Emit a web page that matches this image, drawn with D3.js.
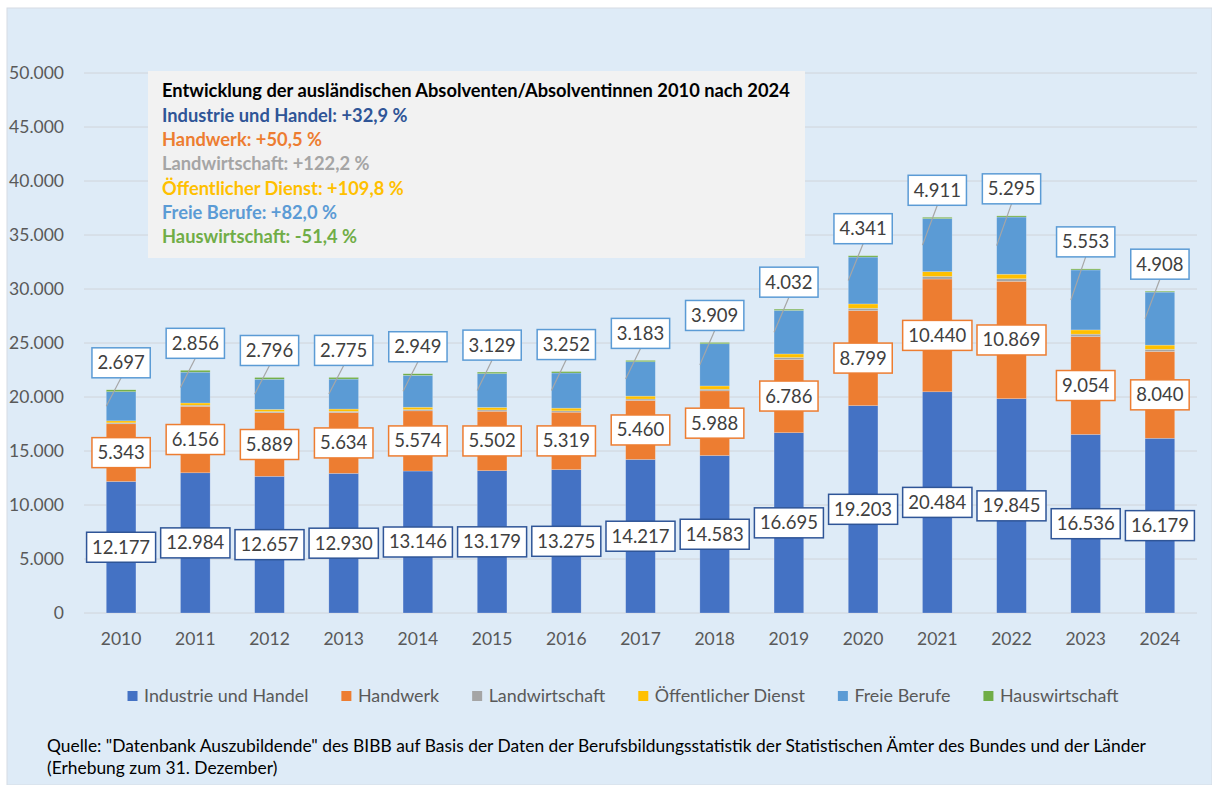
<!DOCTYPE html>
<html lang="de">
<head>
<meta charset="utf-8">
<script src="https://cdn.jsdelivr.net/npm/d3@7"></script>
<style>
  html, body { margin: 0; padding: 0; background: #fff; }
  svg { display: block; font-family: Lato, "Open Sans", "Noto Sans", sans-serif; }
</style>
</head>
<body>
<div id="chart"></div>
<script>
// ── Daten ─────────────────────────────────────────────
const years = ['2010', '2011', '2012', '2013', '2014', '2015', '2016', '2017',
               '2018', '2019', '2020', '2021', '2022', '2023', '2024'];

const industrie      = [12177, 12984, 12657, 12930, 13146, 13179, 13275, 14217, 14583, 16695, 19203, 20484, 19845, 16536, 16179];
const handwerk       = [5343, 6156, 5889, 5634, 5574, 5502, 5319, 5460, 5988, 6786, 8799, 10440, 10869, 9054, 8040];
const landwirtschaft = [90, 100, 105, 110, 115, 120, 125, 135, 150, 175, 215, 245, 235, 230, 200];
const oeffentlich    = [184, 205, 200, 210, 220, 235, 250, 270, 300, 330, 400, 440, 420, 390, 386];
const freieBerufe    = [2697, 2856, 2796, 2775, 2949, 3129, 3252, 3183, 3909, 4032, 4341, 4911, 5295, 5553, 4908];
const hauswirtschaft = [175, 170, 160, 155, 150, 140, 135, 125, 120, 115, 125, 120, 110, 100, 85];

const seriesNames = ['Industrie und Handel', 'Handwerk', 'Landwirtschaft',
                     'Öffentlicher Dienst', 'Freie Berufe', 'Hauswirtschaft'];
const seriesValues = [industrie, handwerk, landwirtschaft, oeffentlich, freieBerufe, hauswirtschaft];
const seriesColors = ['#4472C4', '#ED7D31', '#A5A5A5', '#FFC000', '#5B9BD5', '#70AD47'];

const yTicks = [0, 5000, 10000, 15000, 20000, 25000, 30000, 35000, 40000, 45000, 50000];

const boxTitle = 'Entwicklung der ausländischen Absolventen/Absolventinnen 2010 nach 2024';
const boxLines = ['Industrie und Handel: +32,9 %', 'Handwerk: +50,5 %', 'Landwirtschaft: +122,2 %',
                  'Öffentlicher Dienst: +109,8 %', 'Freie Berufe: +82,0 %', 'Hauswirtschaft: -51,4 %'];
const boxColors = ['#2F5597', '#ED7D31', '#A5A5A5', '#FFC000', '#5B9BD5', '#70AD47'];

const sourceLines = [
    'Quelle: "Datenbank Auszubildende" des BIBB auf Basis der Daten der Berufsbildungsstatistik der Statistischen Ämter des Bundes und der Länder',
    '(Erhebung zum 31. Dezember)'
];

// ── Aufbau ────────────────────────────────────────────
const W = 1212, H = 785;
const fmt = d3.formatLocale({ decimal: ',', thousands: '.', grouping: [3], currency: ['', '€'] }).format(',d');

const svg = d3.select('#chart').append('svg')
    .attr('width', W).attr('height', H);

svg.append('rect')
    .attr('x', 7).attr('y', 8).attr('width', W - 7).attr('height', H - 8)
    .attr('fill', '#DEEBF7')
    .attr('stroke', '#D6DCE4');

const x = d3.scaleBand().domain(years).range([84, 1197]).paddingInner(0.6).paddingOuter(0.3);
const y = d3.scaleLinear().domain([0, 50000]).range([613, 73]);

// Gitterlinien + Achsenbeschriftung
svg.append('g').selectAll('line')
    .data(yTicks)
    .join('line')
    .attr('x1', 84).attr('x2', 1197)
    .attr('y1', d => y(d)).attr('y2', d => y(d))
    .attr('stroke', '#D0D4DA').attr('stroke-width', 1);

svg.append('g').selectAll('text')
    .data(yTicks)
    .join('text')
    .attr('x', 64).attr('y', d => y(d))
    .attr('dy', '0.35em')
    .attr('text-anchor', 'end')
    .attr('fill', '#595959')
    .style('font-size', '17.5px')
    .text(d => fmt(d));

svg.append('g').selectAll('text')
    .data(years)
    .join('text')
    .attr('x', d => x(d) + x.bandwidth() / 2).attr('y', 639)
    .attr('dy', '0.35em')
    .attr('text-anchor', 'middle')
    .attr('fill', '#595959')
    .style('font-size', '17.5px')
    .text(d => d);

// ── Gestapelte Balken ────────────────────────────────
const rows = years.map((yr, i) => {
    const r = { year: yr };
    seriesNames.forEach((s, k) => { r[s] = seriesValues[k][i]; });
    return r;
});
const stacked = d3.stack().keys(seriesNames)(rows);

svg.append('g').selectAll('g')
    .data(stacked)
    .join('g')
    .attr('fill', (d, k) => seriesColors[k])
    .selectAll('rect')
    .data(d => d)
    .join('rect')
    .attr('x', d => x(d.data.year))
    .attr('width', x.bandwidth())
    .attr('y', d => y(d[1]))
    .attr('height', d => y(d[0]) - y(d[1]))
    .attr('stroke', 'rgba(255,255,255,0.35)')
    .attr('stroke-width', 0.6);

// ── Datenbeschriftungen ──────────────────────────────
function labelBox(g, cx, cy, text, border) {
    const t = g.append('text')
        .attr('x', cx).attr('y', cy)
        .attr('dy', '0.35em')
        .attr('text-anchor', 'middle')
        .attr('fill', '#404040')
        .style('font-size', '18.5px')
        .text(text);
    const bb = t.node().getBBox();
    g.insert('rect', 'text')
        .attr('x', cx - bb.width / 2 - 5.5)
        .attr('y', cy - 15)
        .attr('width', bb.width + 11)
        .attr('height', 30)
        .attr('fill', '#fff')
        .attr('stroke', border)
        .attr('stroke-width', 1.5);
}

const labelsG = svg.append('g');
const [sInd, sHw] = [stacked[0], stacked[1]];
const sFb = stacked[4];
const sTop = stacked[5];

years.forEach((yr, i) => {
    const cx = x(yr) + x.bandwidth() / 2;
    // Industrie und Handel
    const gi = labelsG.append('g');
    labelBox(gi, cx, y((sInd[i][0] + sInd[i][1]) / 2), fmt(industrie[i]), '#2F5597');
    // Handwerk
    const gh = labelsG.append('g');
    labelBox(gh, cx, y((sHw[i][0] + sHw[i][1]) / 2), fmt(handwerk[i]), '#ED7D31');
    // Freie Berufe: über dem Balken, mit Führungslinie
    const boxBottom = y(sTop[i][1]) - 12;
    labelsG.append('line')
        .attr('x1', cx).attr('y1', boxBottom)
        .attr('x2', x(yr)).attr('y2', y((sFb[i][0] + sFb[i][1]) / 2))
        .attr('stroke', '#A6A6A6').attr('stroke-width', 1.2);
    const gf = labelsG.append('g');
    labelBox(gf, cx, boxBottom - 15, fmt(freieBerufe[i]), '#5B9BD5');
});

// ── Infokasten ───────────────────────────────────────
const info = svg.append('g');
info.append('rect')
    .attr('x', 148).attr('y', 71).attr('width', 657).attr('height', 187)
    .attr('fill', '#F2F2F2');
info.append('text')
    .attr('x', 162).attr('y', 91).attr('dy', '0.35em')
    .attr('fill', '#000')
    .style('font-size', '18.3px').style('font-weight', 'bold')
    .text(boxTitle);
info.selectAll('text.line')
    .data(boxLines)
    .join('text')
    .attr('class', 'line')
    .attr('x', 162).attr('y', (d, k) => 115.5 + k * 24.2).attr('dy', '0.35em')
    .attr('fill', (d, k) => boxColors[k])
    .style('font-size', '18.3px').style('font-weight', 'bold')
    .text(d => d);

// ── Legende ──────────────────────────────────────────
const legend = svg.append('g');
const items = seriesNames.map((name, k) => {
    const g = legend.append('g');
    g.append('rect').attr('width', 10).attr('height', 10).attr('y', -5).attr('fill', seriesColors[k]);
    const t = g.append('text').attr('x', 16.5).attr('dy', '0.35em')
        .attr('fill', '#595959').style('font-size', '17.9px').text(name);
    return { g, w: 16.5 + t.node().getComputedTextLength() };
});
const gap = 33;
const total = d3.sum(items, d => d.w) + gap * (items.length - 1);
let lx = 623 - total / 2;
items.forEach(it => {
    it.g.attr('transform', `translate(${lx},696)`);
    lx += it.w + gap;
});

// ── Quelle ───────────────────────────────────────────
svg.append('g').selectAll('text')
    .data(sourceLines)
    .join('text')
    .attr('x', 47).attr('y', (d, k) => 746 + k * 22).attr('dy', '0.35em')
    .attr('fill', '#000')
    .style('font-size', '17.4px')
    .text(d => d);
</script>
</body>
</html>
